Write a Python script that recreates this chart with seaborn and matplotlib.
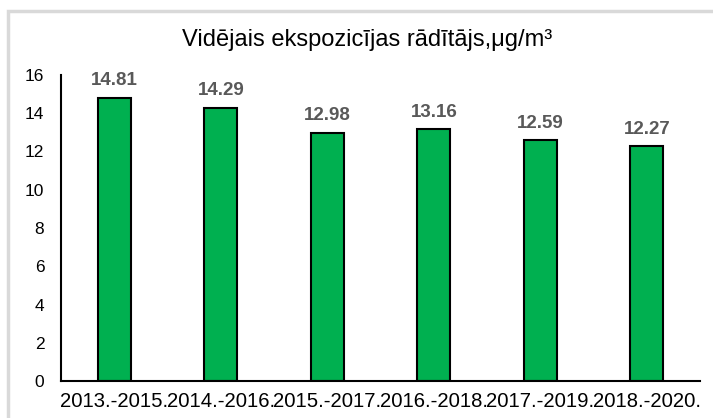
import matplotlib
matplotlib.use('Agg')
import matplotlib.pyplot as plt
import seaborn as sns
import pandas as pd
from matplotlib.patches import Rectangle

# === Data ===
periods = ['2013.-2015.', '2014.-2016.', '2015.-2017.', '2016.-2018.', '2017.-2019.', '2018.-2020.']
exposure = [14.81, 14.29, 12.98, 13.16, 12.59, 12.27]
yticks = [0, 2, 4, 6, 8, 10, 12, 14, 16]

df = pd.DataFrame({'Periods': periods, 'Value': exposure})

sns.set_theme(style='white')
plt.rcParams['font.family'] = ['Liberation Sans', 'DejaVu Sans']

fig = plt.figure(figsize=(7.13, 4.18), dpi=100)
ax = fig.add_axes([0.0856, 0.0885, 0.8964, 0.7321])

# light outer frame like the chart area border
fig.patches.append(Rectangle((8 / 713, -0.05), 1.2, 1 - 11 / 418 + 0.05, transform=fig.transFigure,
                             fill=False, edgecolor='#d9d9d9', linewidth=2.5, zorder=0))

sns.barplot(data=df, x='Periods', y='Value', ax=ax, color='#00B050', width=0.31,
            edgecolor='black', linewidth=1.5, saturation=1)

for i, v in enumerate(exposure):
    ax.text(i, v + 0.45, f"{v:.2f}", ha='center', va='bottom', fontsize=13.5,
            fontweight='bold', color='#595959')

ax.set_ylim(0, 16)
ax.set_yticks(yticks)
ax.set_xlim(-0.5, 5.5)
ax.set_xlabel('')
ax.set_ylabel('')
ax.tick_params(axis='y', length=0, pad=12, labelsize=12.5, labelcolor='black')
ax.tick_params(axis='x', length=0, pad=8, labelsize=14.6, labelcolor='black')

for side in ['top', 'right']:
    ax.spines[side].set_visible(False)
for side in ['left', 'bottom']:
    ax.spines[side].set_color('black')
    ax.spines[side].set_linewidth(1.5)

fig.text(0.515, 0.904, 'Vidējais ekspozicījas rādītājs,μg/m³', ha='center', va='center',
         fontsize=17, color='black')

fig.savefig('out.png', dpi=100)
